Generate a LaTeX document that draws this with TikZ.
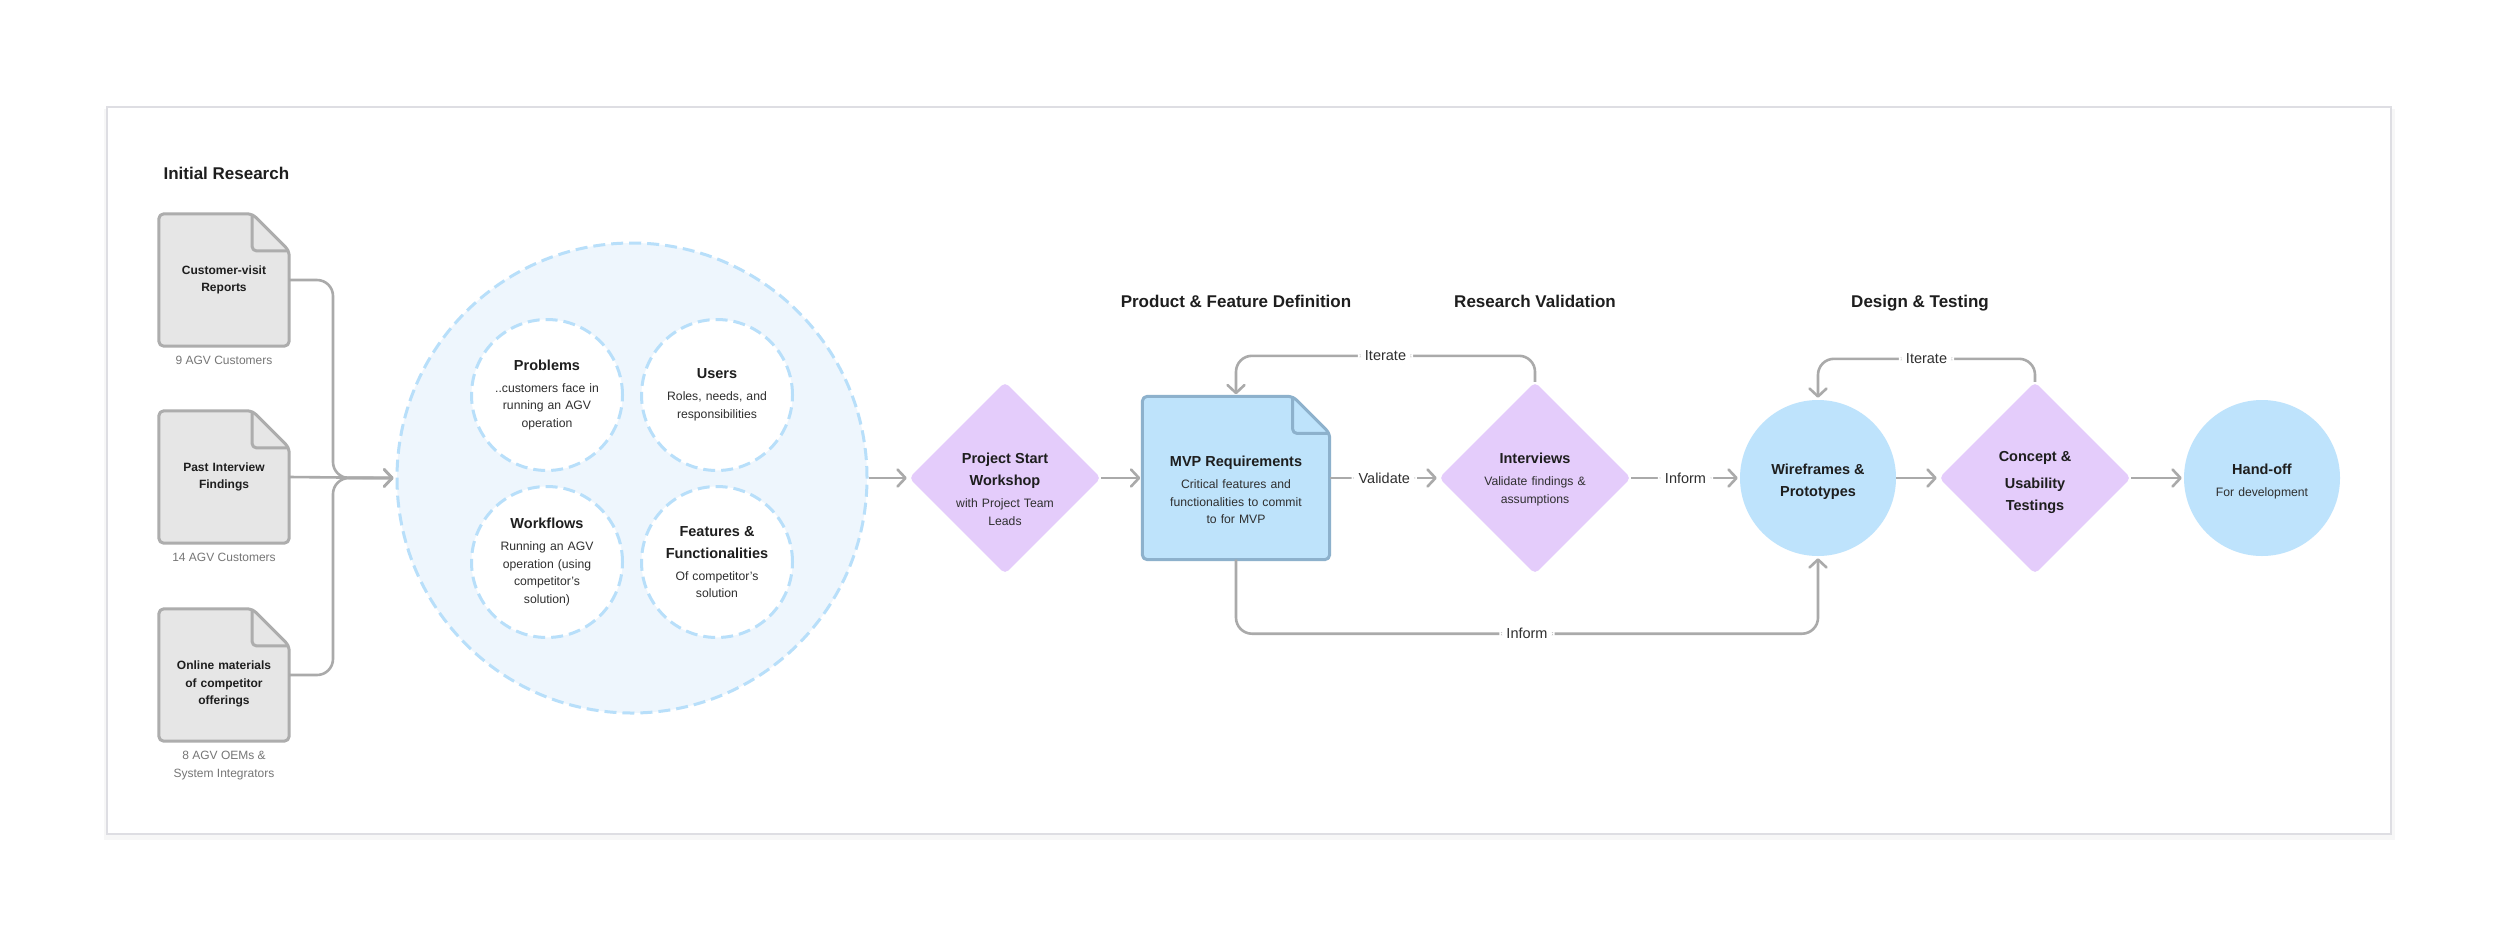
\documentclass[tikz,border=0pt]{standalone}
\usepackage{fontspec}
\setmainfont{Liberation Sans}
\usepackage{xcolor}
\usepackage{tikz}
\usetikzlibrary{arrows.meta,positioning,calc,backgrounds,shapes.geometric}

\definecolor{inkdark}{HTML}{1E1E1E}
\definecolor{inksub}{HTML}{2F2F2F}
\definecolor{capgrey}{HTML}{767676}
\definecolor{linkgrey}{HTML}{AAAAAA}
\definecolor{docfill}{HTML}{E6E6E6}
\definecolor{docline}{HTML}{ADADAD}
\definecolor{mvpfill}{HTML}{BEE3FB}
\definecolor{mvpline}{HTML}{8DB1CC}
\definecolor{lilac}{HTML}{E4CCFB}
\definecolor{skyfill}{HTML}{BEE3FC}
\definecolor{ctxfill}{HTML}{EEF6FD}
\definecolor{ctxline}{HTML}{B8DFFA}
\definecolor{framegrey}{HTML}{DEDEE3}

\newcommand\hdfont{\fontsize{17}{21}\selectfont\bfseries}
\newcommand\ttlfont{\fontsize{14.5}{22}\selectfont\bfseries\color{inkdark}}
\newcommand\subfont{\fontsize{12.2}{17.5}\selectfont}
\newcommand\docfont{\fontsize{12}{17.5}\selectfont\bfseries}
\newcommand\capfont{\fontsize{12}{18}\selectfont}
\newcommand\lblfont{\fontsize{14.5}{18}\selectfont}
\newcommand\padtop[1]{\rule{0pt}{#1}}

% sheet with a folded corner, drawn behind the node text
\newcommand\dogear[3]{%
  \begin{scope}[on background layer]
    \draw[line width=3pt, line join=round, rounded corners=5pt, fill=#2, draw=#3]
      (#1.north west) -- ($(#1.north east)+(-37,0)$) -- ($(#1.north east)+(0,37)$)
      -- (#1.south east) -- (#1.south west) -- cycle;
    \draw[line width=3pt, line join=round, rounded corners=4pt, draw=#3]
      ($(#1.north east)+(-37,0)$) -- ($(#1.north east)+(-37,37)$) -- ($(#1.north east)+(0,37)$);
  \end{scope}}

\begin{document}
\begin{tikzpicture}[
    x=1pt, y=-1pt,
    >={Straight Barb[length=8pt,width=17pt,round]},
    font=\subfont,
    docbox/.style={minimum width=130pt, minimum height=132pt, inner sep=0pt,
                   align=center, text width=118pt, font=\docfont, text=inkdark},
    capnote/.style={align=center, font=\capfont, text=capgrey, inner sep=0pt},
    ctxring/.style={circle, minimum size=470pt, fill=ctxfill, draw=ctxline,
                    line width=3pt, dash pattern=on 12pt off 6pt},
    facet/.style={circle, minimum size=151pt, inner sep=0pt, fill=white, draw=ctxline,
                  line width=3pt, dash pattern=on 12pt off 6pt,
                  align=center, text width=122pt, text=inksub},
    gate/.style={diamond, aspect=1, minimum width=192pt, minimum height=192pt,
                 inner sep=-10pt, fill=lilac, rounded corners=5pt,
                 align=center, text width=108pt, text=inksub},
    stage/.style={circle, minimum size=156pt, inner sep=0pt, fill=skyfill,
                  align=center, text width=120pt, text=inksub},
    reqbox/.style={minimum width=187pt, minimum height=163pt, inner sep=0pt,
                   align=center, text width=172pt, text=inksub},
    phase/.style={font=\hdfont, text=inkdark, anchor=base},
    lbl/.style={fill=white, inner xsep=7pt, inner ysep=3pt, font=\lblfont, text=inksub},
    link/.style={->, line width=2.6pt, draw=linkgrey, rounded corners=16pt, shorten >=2pt},
]
% --- sheet and frame ---
\begin{scope}[on background layer]
  \fill[white] (0,0) rectangle (2500,943);
  \fill[black!3] (104,109) rectangle (2395,840);
  \draw[framegrey, line width=1.2pt, fill=white] (107,107) rectangle (2391,834);
\end{scope}
\useasboundingbox (0,0) rectangle (2500,943);

% --- phase headings ---
\node[phase, anchor=base west] (hdinit) at (160,179) {Initial Research};
\node[phase] (hdprod) at (1236,307) {Product \& Feature Definition};
\node[phase] (hdval)  at (1535,307) {Research Validation};
\node[phase] (hddes)  at (1920,307) {Design \& Testing};

% --- initial research sources ---
\node[docbox] (rep) at (224,280) {Customer-visit\\Reports};
\dogear{rep}{docfill}{docline}
\node[capnote, below=10pt of rep] (repn) {9 AGV Customers};

\node[docbox] (pif) at (224,477) {Past Interview\\Findings};
\dogear{pif}{docfill}{docline}
\node[capnote, below=10pt of pif] (pifn) {14 AGV Customers};

\node[docbox] (onl) at (224,675) {\padtop{27pt}Online materials\\of competitor\\offerings};
\dogear{onl}{docfill}{docline}
\node[capnote, below=10pt of onl] (onln) {8 AGV OEMs \&\\System Integrators};

% --- research context ---
\node[ctxring] (ctx) at (632,478) {};
\node[facet] (prob) at (547,395)
  {{\ttlfont Problems}\\[4.5pt]..customers face in\\running an AGV\\operation};
\node[facet] (usr) at (717,395)
  {{\ttlfont Users}\\[4.5pt]Roles, needs, and\\responsibilities};
\node[facet] (wfl) at (547,562)
  {{\ttlfont Workflows}\\[4.5pt]Running an AGV\\operation (using\\competitor’s\\solution)};
\node[facet] (feat) at (717,562)
  {{\ttlfont Features \&\\[4.5pt]Functionalities}\\[4.5pt]Of competitor’s\\solution};

% --- main flow ---
\node[gate] (kick) at (1005,478)
  {\padtop{33pt}{\ttlfont Project Start\\[4.5pt]Workshop}\\[4.5pt]with Project Team\\Leads};
\node[reqbox] (mvp) at (1236,478)
  {\padtop{35pt}{\ttlfont MVP Requirements}\\[4.5pt]Critical features and\\functionalities to commit\\to for MVP};
\dogear{mvp}{mvpfill}{mvpline}
\node[gate] (intv) at (1535,478)
  {\padtop{14pt}{\ttlfont Interviews}\\[4.5pt]Validate findings \&\\assumptions};
\node[stage] (wire) at (1818,478)
  {\padtop{17pt}{\ttlfont Wireframes \&\\[4.5pt]Prototypes}};
\node[gate] (conc) at (2035,478)
  {\padtop{19pt}{\ttlfont Concept \&\\[4.5pt]Usability\\[4.5pt]Testings}};
\node[stage] (hand) at (2262,478)
  {\padtop{17pt}{\ttlfont Hand-off}\\[4.5pt]For development};

% --- connectors ---
\coordinate (jn) at (333,478);
\draw[link] (rep.east) -| (jn) -- (ctx.west);
\draw[link] (pif.east) -- (ctx.west);
\draw[link] (onl.east) -| (jn) -- (ctx.west);

\draw[link] (ctx.east)  -- (kick.west);
\draw[link] (kick.east) -- (mvp.west);
\draw[link] (mvp.east)  -- node[lbl]{Validate} (intv.west);
\draw[link] (intv.east) -- node[lbl]{Inform} (wire.west);
\draw[link] (wire.east) -- (conc.west);
\draw[link] (conc.east) -- (hand.west);

% --- loops ---
\draw[link] (intv.north) -- ++(0,-26) -| node[lbl, pos=.25]{Iterate} (mvp.north);
\draw[link] (conc.north) -- ++(0,-23) -| node[lbl, pos=.25]{Iterate} (wire.north);
\draw[link] (mvp.south) -- ++(0,74) -| node[lbl, pos=.25]{Inform} (wire.south);
\end{tikzpicture}
\end{document}
